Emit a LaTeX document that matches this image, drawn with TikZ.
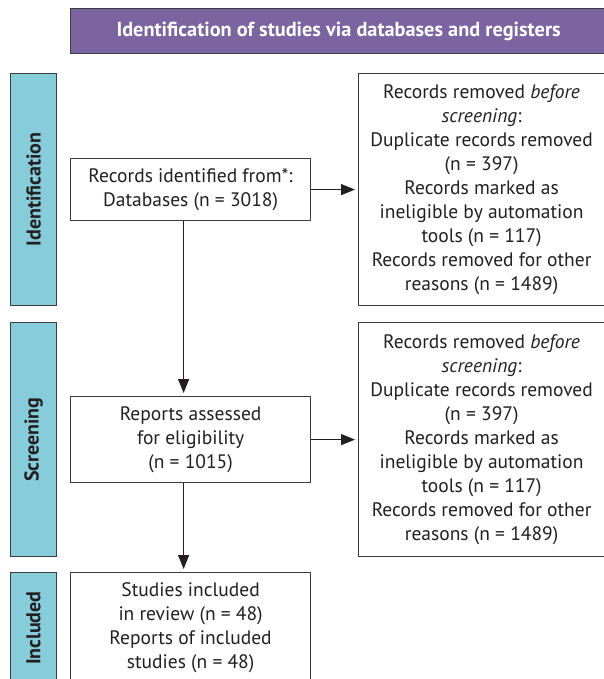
\documentclass[tikz,border=0pt]{standalone}
\usepackage{fontspec}
\setmainfont{PT Sans}
\usetikzlibrary{arrows.meta}
\definecolor{bannerpurple}{RGB}{123,100,160}
\definecolor{sideblue}{RGB}{135,204,218}
\definecolor{inkgray}{RGB}{35,31,32}
\definecolor{edgegray}{RGB}{60,60,60}
\tikzset{
  box/.style={draw=edgegray, line width=1.2pt, fill=white, text=inkgray, align=center, inner sep=0pt,
    font=\fontsize{19.5}{24}\selectfont, anchor=north west},
  sidebar/.style={draw=edgegray, line width=1.2pt, fill=sideblue, inner sep=0pt, anchor=north west},
  sidelabel/.style={rotate=90, text=inkgray, font=\fontsize{20}{24}\selectfont\bfseries},
  bannerbox/.style={draw=edgegray, line width=1.2pt, fill=bannerpurple, text=white, inner sep=0pt,
    font=\fontsize{20.3}{24}\selectfont\bfseries, anchor=north west},
  flow/.style={draw=inkgray, line width=1.2pt, -{Triangle[length=14pt,width=11pt]}, shorten >=3pt},
}
\begin{document}
\begin{tikzpicture}[x=1pt,y=-1pt]
\useasboundingbox (0,0) rectangle (603,679);
% banner
\node[bannerbox, minimum width=536pt, minimum height=45pt] (banner) at (70,8) {Identification of studies via databases and registers};
% side bars
\node[sidebar, minimum width=46pt, minimum height=232pt] (idbar) at (10,73) {};
\node[sidelabel] (idlab) at (idbar.center) {Identification};
\node[sidebar, minimum width=46pt, minimum height=234pt] (scrbar) at (10,322) {};
\node[sidelabel] (scrlab) at (scrbar.center) {Screening};
\node[sidebar, minimum width=46pt, minimum height=111pt] (incbar) at (10,572) {};
\node[sidelabel] (inclab) at (incbar.center) {Included};
% main boxes
\node[box, minimum width=240pt, minimum height=62pt] (rec) at (70,158) {Records identified from*:\\Databases (n = 3018)};
\node[box, minimum width=240pt, minimum height=86pt] (rep) at (70,396) {Reports assessed\\for eligibility\\(n = 1015)};
\node[box, minimum width=240pt, minimum height=111pt] (stud) at (70,572) {Studies included\\in review (n = 48)\\Reports of included\\studies (n = 48)};
% removal boxes
\node[box, minimum width=246pt, minimum height=232pt] (rem1) at (358,73) {Records removed \textit{before}\\\textit{screening}:\\Duplicate records removed\\(n = 397)\\Records marked as\\ineligible by automation\\tools (n = 117)\\Records removed for other\\reasons (n = 1489)};
\node[box, minimum width=246pt, minimum height=234pt] (rem2) at (358,322) {Records removed \textit{before}\\\textit{screening}:\\Duplicate records removed\\(n = 397)\\Records marked as\\ineligible by automation\\tools (n = 117)\\Records removed for other\\reasons (n = 1489)};
% connectors
\draw[flow] (rec.east) -- (rem1.west |- rec.east);
\draw[flow] (rep.east) -- (rem2.west |- rep.east);
\draw[flow] ([xshift=-7pt]rec.south) -- ([xshift=-7pt]rep.north);
\draw[flow] ([xshift=-7pt]rep.south) -- ([xshift=-7pt]stud.north);
\end{tikzpicture}
\end{document}
